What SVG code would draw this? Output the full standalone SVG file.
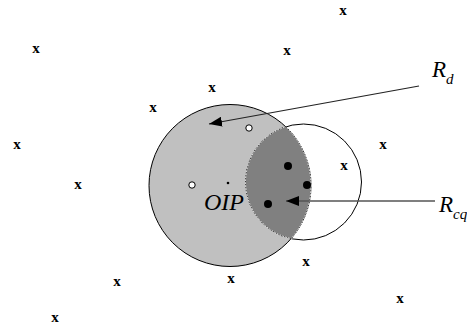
<svg xmlns="http://www.w3.org/2000/svg" width="467" height="326" viewBox="0 0 467 326">
<style>
.x{font-family:"Liberation Serif",serif;font-weight:bold;font-size:15px;text-anchor:middle;fill:#000}
.lbl{font-family:"Liberation Serif",serif;font-style:italic;fill:#000}
.open{fill:#fff;stroke:#000;stroke-width:1}
.full{fill:#000}
</style>
<defs>
<clipPath id="cBig"><circle cx="230" cy="185.5" r="81"/></clipPath>
<clipPath id="cSmall"><circle cx="303.5" cy="182" r="58"/></clipPath>
<marker id="ah" markerUnits="userSpaceOnUse" markerWidth="14" markerHeight="10" refX="13" refY="5" orient="auto">
<path d="M0,0 L13,5 L0,10 Z" fill="#000"/>
</marker>
</defs>
<rect width="467" height="326" fill="#fff"/>
<g id="region-d">
<circle cx="230" cy="185.5" r="81" fill="#c0c0c0" stroke="#000" stroke-width="1"/>
</g>
<g id="region-cq">
<circle cx="303.5" cy="182" r="58" fill="none" stroke="#000" stroke-width="1"/>
<circle cx="303.5" cy="182" r="58" fill="#808080" clip-path="url(#cBig)"/>
<circle cx="303.5" cy="182" r="58" fill="none" stroke="#fff" stroke-width="1" stroke-dasharray="1.5,1.5" clip-path="url(#cBig)"/>
<circle cx="230" cy="185.5" r="81" fill="none" stroke="#fff" stroke-width="1" stroke-dasharray="1.5,1.5" clip-path="url(#cSmall)"/>
</g>
<g id="points">
<circle cx="228" cy="183" r="1.3" fill="#000"/>
<circle class="open" cx="249" cy="128" r="3.2"/>
<circle class="open" cx="192" cy="185" r="3.2"/>
<circle class="full" cx="288" cy="166" r="4"/>
<circle class="full" cx="307" cy="185" r="4"/>
<circle class="full" cx="268" cy="204" r="4"/>
</g>
<g id="crosses">
<text class="x" x="343" y="15">x</text>
<text class="x" x="36" y="53">x</text>
<text class="x" x="287" y="55">x</text>
<text class="x" x="212" y="92">x</text>
<text class="x" x="153" y="112">x</text>
<text class="x" x="17" y="149">x</text>
<text class="x" x="383" y="149">x</text>
<text class="x" x="344" y="170">x</text>
<text class="x" x="78" y="189">x</text>
<text class="x" x="306" y="266">x</text>
<text class="x" x="117" y="286">x</text>
<text class="x" x="231" y="283">x</text>
<text class="x" x="400" y="303">x</text>
<text class="x" x="55" y="322">x</text>
</g>
<g id="connectors">
<line x1="419" y1="86" x2="209" y2="124" stroke="#222" stroke-width="1.2" marker-end="url(#ah)"/>
<line x1="435" y1="201" x2="286" y2="201" stroke="#555" stroke-width="1.5" marker-end="url(#ah)"/>
</g>
<g id="label-oip"><text class="lbl" x="204" y="210" font-size="24">OIP</text></g>
<g id="label-rd"><text class="lbl" x="432" y="77" font-size="23">R<tspan font-size="15" dy="7">d</tspan></text></g>
<g id="label-rcq"><text class="lbl" x="439" y="212" font-size="23">R<tspan font-size="15" dy="7">cq</tspan></text></g>
</svg>
